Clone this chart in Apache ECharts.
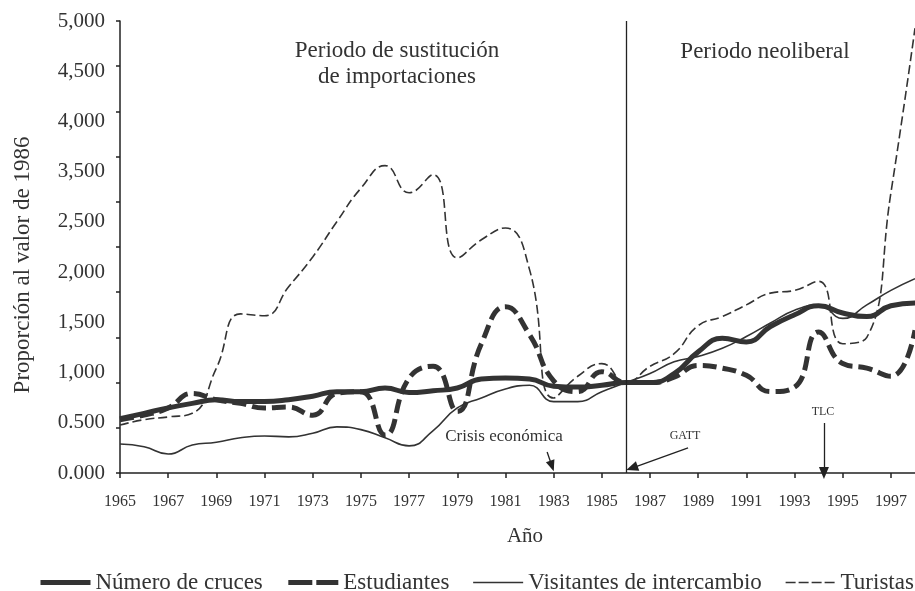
<!DOCTYPE html>
<html>
<head>
<meta charset="utf-8">
<script src="https://cdn.jsdelivr.net/npm/echarts@6/dist/echarts.min.js"></script>
<style>
  html, body { margin: 0; padding: 0; background: #fff; }
  #chart { width: 915px; height: 591px; }
</style>
</head>
<body>
<div id="chart"></div>
<script>
// años y series (proporción al valor de 1986)
var years = [1965, 1966, 1967, 1968, 1969, 1970, 1971, 1972, 1973, 1974,
             1975, 1976, 1977, 1978, 1979, 1980, 1981, 1982, 1983, 1984,
             1985, 1986, 1987, 1988, 1989, 1990, 1991, 1992, 1993, 1994,
             1995, 1996, 1997, 1998];

var cruces = [0.60, 0.66, 0.72, 0.77, 0.81, 0.79, 0.79, 0.81, 0.85, 0.90,
              0.90, 0.94, 0.89, 0.91, 0.94, 1.04, 1.05, 1.04, 0.96, 0.95,
              0.97, 1.00, 1.00, 1.10, 1.34, 1.49, 1.45, 1.62, 1.75, 1.85,
              1.77, 1.73, 1.85, 1.88];

var estudiantes = [0.59, 0.64, 0.72, 0.88, 0.81, 0.77, 0.72, 0.73, 0.64, 0.88,
                   0.90, 0.42, 1.05, 1.18, 0.68, 1.43, 1.84, 1.53, 1.02, 0.90,
                   1.12, 1.00, 1.00, 1.06, 1.19, 1.16, 1.08, 0.90, 0.95, 1.56,
                   1.21, 1.16, 1.07, 1.58];

var visitantes = [0.32, 0.29, 0.21, 0.31, 0.34, 0.39, 0.41, 0.40, 0.44, 0.51,
                  0.48, 0.39, 0.30, 0.47, 0.72, 0.83, 0.93, 0.97, 0.79, 0.79,
                  0.90, 1.00, 1.10, 1.23, 1.29, 1.38, 1.51, 1.66, 1.80, 1.86,
                  1.71, 1.86, 2.02, 2.15];

var turistas = [0.53, 0.59, 0.62, 0.66, 1.16, 1.76, 1.74, 2.06, 2.39, 2.78,
                3.15, 3.40, 3.10, 3.30, 2.38, 2.58, 2.71, 2.25, 0.83, 1.07,
                1.21, 1.00, 1.18, 1.32, 1.63, 1.73, 1.86, 1.99, 2.02, 2.12,
                1.43, 1.50, 3.10, 4.92];

// etiquetas del eje tal como aparecen en el original (falta 3,000)
var yLabels = ['0.000', '0.500', '1,000', '1,500', '2,000', '2,500',
               '3,500', '4,000', '4,500', '5,000'];

var serif = '"Liberation Serif", "Times New Roman", serif';
var ink = '#333';

function pairs(vals) {
    return years.map(function (y, i) { return [y, vals[i]]; });
}

var chart = echarts.init(document.getElementById('chart'));

var option = {
    animation: false,
    backgroundColor: '#fff',
    textStyle: { fontFamily: serif, color: ink },
    grid: { left: 120, right: 0, top: 21, bottom: 118, outerBoundsMode: 'none' },
    legend: {
        left: 38,
        top: 571,
        width: 877,
        padding: 0,
        itemWidth: 50,
        itemHeight: 14,
        itemGap: 23,
        lineStyle: { width: 'inherit', type: 'inherit' },
        itemStyle: { color: 'rgba(0,0,0,0)', borderWidth: 0, opacity: 0 },
        textStyle: { fontFamily: serif, fontSize: 23, color: ink },
        data: [
            { name: 'Número de cruces' },
            { name: 'Estudiantes', lineStyle: { type: [24, 4] } },
            { name: 'Visitantes de intercambio' },
            { name: 'Turistas', lineStyle: { type: [10, 3] } }
        ]
    },
    xAxis: {
        type: 'value',
        min: 1965,
        max: 1998,
        interval: 2,
        name: 'Año',
        nameLocation: 'middle',
        nameGap: 53,
        nameTextStyle: { fontFamily: serif, fontSize: 21, color: ink, padding: [0, 0, 0, 15] },
        axisLine: { lineStyle: { color: '#222', width: 1.5 } },
        axisTick: { length: 5, lineStyle: { color: '#222', width: 1.5 } },
        axisLabel: {
            margin: 21,
            fontFamily: serif,
            fontSize: 16,
            color: ink,
            showMaxLabel: false,
            formatter: function (v) { return v === 1998 ? '' : String(v); }
        },
        splitLine: { show: false }
    },
    yAxis: [
        {
            type: 'value',
            min: 0,
            max: 5,
            interval: 0.5,
            position: 'left',
            name: 'Proporción al valor de 1986',
            nameLocation: 'middle',
            nameRotate: 90,
            nameGap: 86,
            nameTextStyle: { fontFamily: serif, fontSize: 23, color: ink, padding: [0, 36, 0, 0] },
            axisLine: { show: true, lineStyle: { color: '#222', width: 1.5 } },
            axisTick: { show: true, length: 4, lineStyle: { color: '#222', width: 1.5 } },
            axisLabel: { show: false },
            splitLine: { show: false }
        },
        {
            type: 'value',
            min: 0,
            max: 9,
            interval: 1,
            position: 'left',
            axisLine: { show: false },
            axisTick: { show: false },
            splitLine: { show: false },
            axisLabel: {
                margin: 15,
                fontFamily: serif,
                fontSize: 21,
                color: ink,
                formatter: function (v) { return yLabels[v]; }
            }
        }
    ],
    graphic: [
        {
            type: 'text', position: [397, 38],
            style: {
                text: 'Periodo de sustitución\nde importaciones',
                align: 'center', lineHeight: 26,
                font: '23px ' + serif, fill: ink
            }
        },
        {
            type: 'text', position: [765, 40],
            style: { text: 'Periodo neoliberal', align: 'center', font: '23px ' + serif, fill: ink }
        },
        {
            type: 'text', position: [504, 428],
            style: { text: 'Crisis económica', align: 'center', font: '17px ' + serif, fill: ink }
        },
        {
            type: 'text', position: [685, 430],
            style: { text: 'GATT', align: 'center', font: '12px ' + serif, fill: ink }
        },
        {
            type: 'text', position: [823, 406],
            style: { text: 'TLC', align: 'center', font: '12px ' + serif, fill: ink }
        }
    ],
    series: [
        {
            name: 'Número de cruces',
            type: 'line',
            smooth: 0.5,
            symbol: 'none',
            z: 4,
            lineStyle: { color: ink, width: 5, type: 'solid' },
            itemStyle: { color: ink },
            data: pairs(cruces),
            markLine: {
                silent: true,
                animation: false,
                symbol: ['none', 'none'],
                label: { show: false },
                lineStyle: { color: '#222', width: 1.3, type: 'solid' },
                data: [
                    { xAxis: 1986 },
                    [
                        { coord: [1982.73, 0.232] },
                        { coord: [1982.93, 0.077], symbol: 'triangle', symbolSize: [9, 11] }
                    ],
                    [
                        { coord: [1988.58, 0.277] },
                        { coord: [1986.25, 0.055], symbol: 'triangle', symbolSize: [10, 12] }
                    ],
                    [
                        { coord: [1994.22, 0.553] },
                        { coord: [1994.22, 0], symbol: 'triangle', symbolSize: [10, 12] }
                    ]
                ]
            }
        },
        {
            name: 'Estudiantes',
            type: 'line',
            smooth: 0.5,
            symbol: 'none',
            z: 3,
            lineStyle: { color: ink, width: 5, type: [14, 6] },
            itemStyle: { color: ink },
            data: pairs(estudiantes)
        },
        {
            name: 'Visitantes de intercambio',
            type: 'line',
            smooth: 0.5,
            symbol: 'none',
            z: 2,
            lineStyle: { color: ink, width: 1.6, type: 'solid' },
            itemStyle: { color: ink },
            data: pairs(visitantes)
        },
        {
            name: 'Turistas',
            type: 'line',
            smooth: 0.5,
            symbol: 'none',
            z: 2,
            lineStyle: { color: ink, width: 1.6, type: [9, 4] },
            itemStyle: { color: ink },
            data: pairs(turistas)
        }
    ]
};

chart.setOption(option);
</script>
</body>
</html>
